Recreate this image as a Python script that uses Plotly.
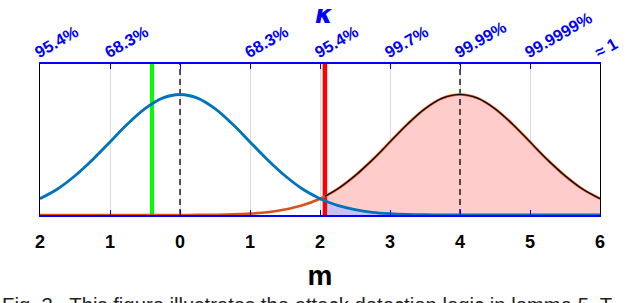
import plotly.graph_objects as go

# ---- data ----
x_vals = [-2.0, -1.75, -1.5, -1.25, -1.0, -0.75, -0.5, -0.25, 0.0, 0.25, 0.5, 0.75,
          1.0, 1.25, 1.5, 1.75, 2.0, 2.07, 2.25, 2.5, 2.75, 3.0, 3.25, 3.5, 3.75,
          4.0, 4.25, 4.5, 4.75, 5.0, 5.25, 5.5, 5.75, 6.0]
blue_vals = [0.054, 0.086, 0.130, 0.183, 0.242, 0.301, 0.352, 0.387, 0.399, 0.387, 0.352, 0.301,
             0.242, 0.183, 0.130, 0.086, 0.054, 0.047, 0.032, 0.018, 0.009, 0.0044, 0.002, 0.0009, 0.0004,
             0.0001, 0.0, 0.0, 0.0, 0.0, 0.0, 0.0, 0.0, 0.0]
orange_vals = [0.0, 0.0, 0.0, 0.0, 0.0, 0.0, 0.0, 0.0, 0.0001, 0.0004, 0.0009, 0.002,
               0.0044, 0.009, 0.018, 0.032, 0.054, 0.062, 0.086, 0.130, 0.183, 0.242, 0.301, 0.352, 0.387,
               0.399, 0.387, 0.352, 0.301, 0.242, 0.183, 0.130, 0.086, 0.054]

red_x = 2.07
green_x = -0.4
dashed_x = [0, 4]

bottom_ticks = [-2, -1, 0, 1, 2, 3, 4, 5, 6]
bottom_labels = ["2", "1", "0", "1", "2", "3", "4", "5", "6"]
top_labels = ["95.4%", "68.3%", "", "68.3%", "95.4%", "99.7%", "99.99%", "99.9999%", "≈ 1"]

X_RANGE = [-2, 6]
Y_RANGE = [0, 0.5]

BLUE = "#0072BD"
ORANGE = "#D95319"

fig = go.Figure()

# filled tails beyond the red threshold
fx = [x for x in x_vals if x >= red_x]
fo = [o for x, o in zip(x_vals, orange_vals) if x >= red_x]
fb = [b for x, b in zip(x_vals, blue_vals) if x >= red_x]
fig.add_trace(go.Scatter(x=fx, y=fo, mode="lines", line=dict(width=0, shape="spline"),
                         fill="tozeroy", fillcolor="rgb(255,204,204)", hoverinfo="skip"))
fig.add_trace(go.Scatter(x=fx, y=fb, mode="lines", line=dict(width=0, shape="spline"),
                         fill="tozeroy", fillcolor="rgba(190,190,255,0.85)", hoverinfo="skip"))

# vertical markers
for dx in dashed_x:
    fig.add_trace(go.Scatter(x=[dx, dx], y=Y_RANGE, mode="lines",
                             line=dict(color="black", width=1.3, dash="6px,4px")))
fig.add_trace(go.Scatter(x=[green_x, green_x], y=Y_RANGE, mode="lines",
                         line=dict(color="#00FF00", width=4)))
fig.add_trace(go.Scatter(x=[red_x, red_x], y=Y_RANGE, mode="lines",
                         line=dict(color="#FF0000", width=4.5)))

# curves
fig.add_trace(go.Scatter(x=x_vals, y=orange_vals, mode="lines",
                         line=dict(color=ORANGE, width=2.6, shape="spline")))
fig.add_trace(go.Scatter(x=fx, y=fo, mode="lines",
                         line=dict(color="black", width=1.1, shape="spline")))
fig.add_trace(go.Scatter(x=x_vals, y=blue_vals, mode="lines",
                         line=dict(color=BLUE, width=2.8, shape="spline")))

# invisible trace to activate top axis
fig.add_trace(go.Scatter(x=X_RANGE, y=Y_RANGE, xaxis="x2", mode="markers",
                         marker=dict(opacity=0), hoverinfo="skip"))

fig.update_layout(
    width=640, height=303,
    margin=dict(l=40, r=40, t=64, b=88),
    paper_bgcolor="white", plot_bgcolor="white",
    showlegend=False,
    font=dict(family="Liberation Sans, Arial, sans-serif"),
    xaxis=dict(range=X_RANGE, tickvals=bottom_ticks, ticktext=bottom_labels, automargin=False,
               showgrid=True, gridcolor="#dcdcdc", gridwidth=1,
               zeroline=False, showline=True, linecolor="#0000FF", linewidth=1.5,
               ticks="inside", ticklen=5, tickcolor="#0000FF", tickwidth=1.3,
               tickfont=dict(size=18, color="black", family="Liberation Sans, Arial, sans-serif", weight="bold"),
               ticklabelstandoff=10,
               title=dict(text="<b>m</b>", font=dict(size=28, color="black"), standoff=14)),
    xaxis2=dict(range=X_RANGE, overlaying="x", side="top", anchor="y", automargin=False,
                tickvals=bottom_ticks, ticktext=top_labels, tickangle=-30,
                showgrid=False, zeroline=False, showline=True, linecolor="#0000FF", linewidth=1.5,
                ticks="inside", ticklen=5, tickcolor="#0000FF", tickwidth=1.3,
                ticklabelstandoff=-4, ticklabelshift=-5,
                tickfont=dict(size=16.5, color="#0000FF", weight="bold")),
    yaxis=dict(range=Y_RANGE, showticklabels=False, showgrid=False, zeroline=False, automargin=False,
               showline=True, linecolor="black", linewidth=1.3, mirror=True, ticks=""),
    annotations=[
        dict(text="<b><i>κ</i></b>", x=0.5, y=1.0, xref="paper", yref="paper",
             xanchor="center", yanchor="bottom", yshift=33, xshift=4, showarrow=False,
             font=dict(size=25, color="#0000FF", family="DejaVu Sans, sans-serif")),
        dict(text="Fig. 3.  This figure illustrates the attack detection logic in lemma 5. T",
             x=0, y=0, xref="paper", yref="paper", xanchor="left", yanchor="top",
             xshift=-40, yshift=-77, showarrow=False, align="left",
             font=dict(size=20.3, color="#222222")),
    ],
)

fig.write_html("out.html", config={"displayModeBar": False},
               post_script="document.body.style.margin='0';document.body.style.overflow='hidden';")
